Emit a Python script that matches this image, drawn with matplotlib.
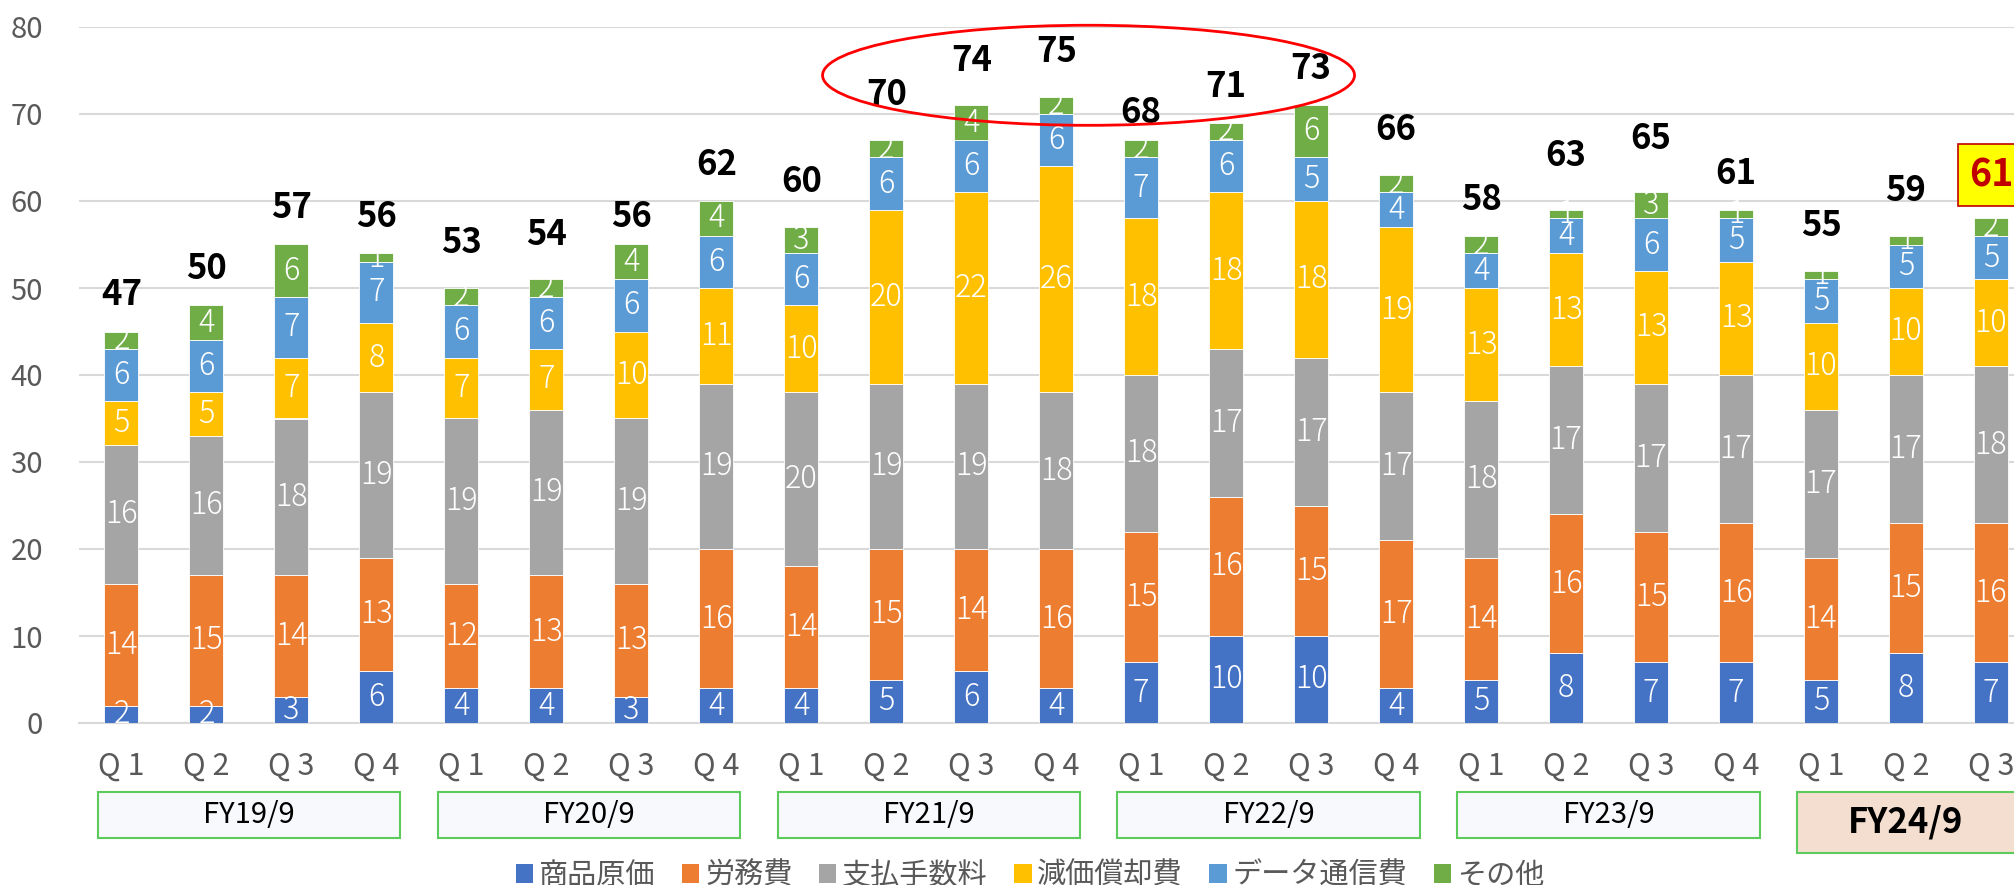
import numpy as np
import matplotlib.pyplot as plt
import matplotlib.transforms as mtransforms
from matplotlib.patches import Rectangle, Ellipse, Patch

plt.rcParams['font.family'] = ['Noto Sans CJK JP', 'DejaVu Sans']

# quarters and fiscal years
quarters = ['Q 1', 'Q 2', 'Q 3', 'Q 4'] * 5 + ['Q 1', 'Q 2', 'Q 3']
years = ['FY19/9', 'FY20/9', 'FY21/9', 'FY22/9', 'FY23/9', 'FY24/9']

# cost breakdown (bottom to top)
cogs = [2, 2, 3, 6, 4, 4, 3, 4, 4, 5, 6, 4, 7, 10, 10, 4, 5, 8, 7, 7, 5, 8, 7]
labor = [14, 15, 14, 13, 12, 13, 13, 16, 14, 15, 14, 16, 15, 16, 15, 17, 14, 16, 15, 16, 14, 15, 16]
fees = [16, 16, 18, 19, 19, 19, 19, 19, 20, 19, 19, 18, 18, 17, 17, 17, 18, 17, 17, 17, 17, 17, 18]
depr = [5, 5, 7, 8, 7, 7, 10, 11, 10, 20, 22, 26, 18, 18, 18, 19, 13, 13, 13, 13, 10, 10, 10]
datacom = [6, 6, 7, 7, 6, 6, 6, 6, 6, 6, 6, 6, 7, 6, 5, 4, 4, 4, 6, 5, 5, 5, 5]
other = [2, 4, 6, 1, 2, 2, 4, 4, 3, 2, 4, 2, 2, 2, 6, 2, 2, 1, 3, 1, 1, 1, 2]
totals = [47, 50, 57, 56, 53, 54, 56, 62, 60, 70, 74, 75, 68, 71, 73, 66, 58, 63, 65, 61, 55, 59, 61]

series_names = ['商品原価', '労務費', '支払手数料', '減価償却費', 'データ通信費', 'その他']
series = [cogs, labor, fees, depr, datacom, other]
colors = ['#4472C4', '#ED7D31', '#A5A5A5', '#FFC000', '#5B9BD5', '#70AD47']

fig = plt.figure(figsize=(20.15, 8.85), dpi=100)
ax = fig.add_axes([79 / 2015, 1 - 723 / 885, 1 - 79 / 2015, (723 - 27) / 885])

x = np.arange(len(quarters))
bottom = np.zeros(len(x))
for name, vals, c in zip(series_names, series, colors):
    vals = np.array(vals, dtype=float)
    ax.bar(x, vals, 0.4, bottom=bottom, color=c, edgecolor='white', linewidth=0.6, label=name, zorder=3)
    for xi, b, v in zip(x, bottom, vals):
        ax.text(xi, b + v / 2, f'{v:.0f}', ha='center', va='center', color='white',
                fontsize=22, fontweight='light', zorder=4)
    bottom += vals

# total labels
for xi, b, t in zip(x, bottom, totals):
    if xi == len(x) - 1:
        ax.text(xi, b + 5.0, str(t), ha='center', va='center', color='#C00000', fontsize=27,
                fontweight='bold', zorder=5, clip_on=False,
                bbox=dict(boxstyle='square,pad=0.3', facecolor='#FFFF00', edgecolor='#C00000', linewidth=1.2))
    else:
        ax.text(xi, t + 2.2, str(t), ha='center', va='center', color='black', fontsize=25,
                fontweight='bold', zorder=5)

ax.set_ylim(0, 80)
ax.set_xlim(-0.5, (2015 - 121) / 85)
ax.set_yticks(range(0, 81, 10))
ax.set_xticks(x)
ax.set_xticklabels(quarters)
ax.tick_params(axis='x', length=0, pad=20, labelsize=22, labelcolor='#595959')
ax.tick_params(axis='y', length=0, pad=26, labelsize=21, labelcolor='#595959')
ax.grid(axis='y', color='#D9D9D9', linewidth=1.5, zorder=0)
for s in ['top', 'right', 'left']:
    ax.spines[s].set_visible(False)
ax.spines['bottom'].set_color('#D9D9D9')
ax.spines['bottom'].set_linewidth(1.5)

ell = Ellipse((11.38, 74.45), 6.26, 11.5, fill=False, edgecolor='red', linewidth=2, clip_on=False, zorder=6)
ax.add_patch(ell)

# fiscal year boxes under the quarter labels
trans = mtransforms.blended_transform_factory(ax.transData, fig.transFigure)
for g, yr in enumerate(years):
    x0 = 4 * g - 0.28
    if yr == 'FY24/9':
        ax.add_patch(Rectangle((x0, 1 - 853 / 885), 3.56, 61 / 885, transform=trans, facecolor='#F4DECF',
                               edgecolor='#5CCB5C', linewidth=1.5, clip_on=False, zorder=1))
        ax.text(4 * g + 1.0, 1 - 822 / 885, yr, transform=trans, ha='center', va='center',
                fontsize=25, fontweight='bold', color='black', zorder=2)
    else:
        ax.add_patch(Rectangle((x0, 1 - 838 / 885), 3.56, 46 / 885, transform=trans, facecolor='#F7F9FC',
                               edgecolor='#5CCB5C', linewidth=1.5, clip_on=False, zorder=1))
        ax.text(4 * g + 1.5, 1 - 815 / 885, yr, transform=trans, ha='center', va='center',
                fontsize=21, color='black', zorder=2)

handles = [Patch(facecolor=c) for c in colors]
fig.legend(handles, series_names, loc='center', bbox_to_anchor=(1030 / 2015, 1 - 876 / 885),
           ncol=6, frameon=False, fontsize=21, labelcolor='#595959', handlelength=0.6,
           handleheight=0.6, handletextpad=0.2, columnspacing=0.9)

fig.savefig('out.png', dpi=100)
